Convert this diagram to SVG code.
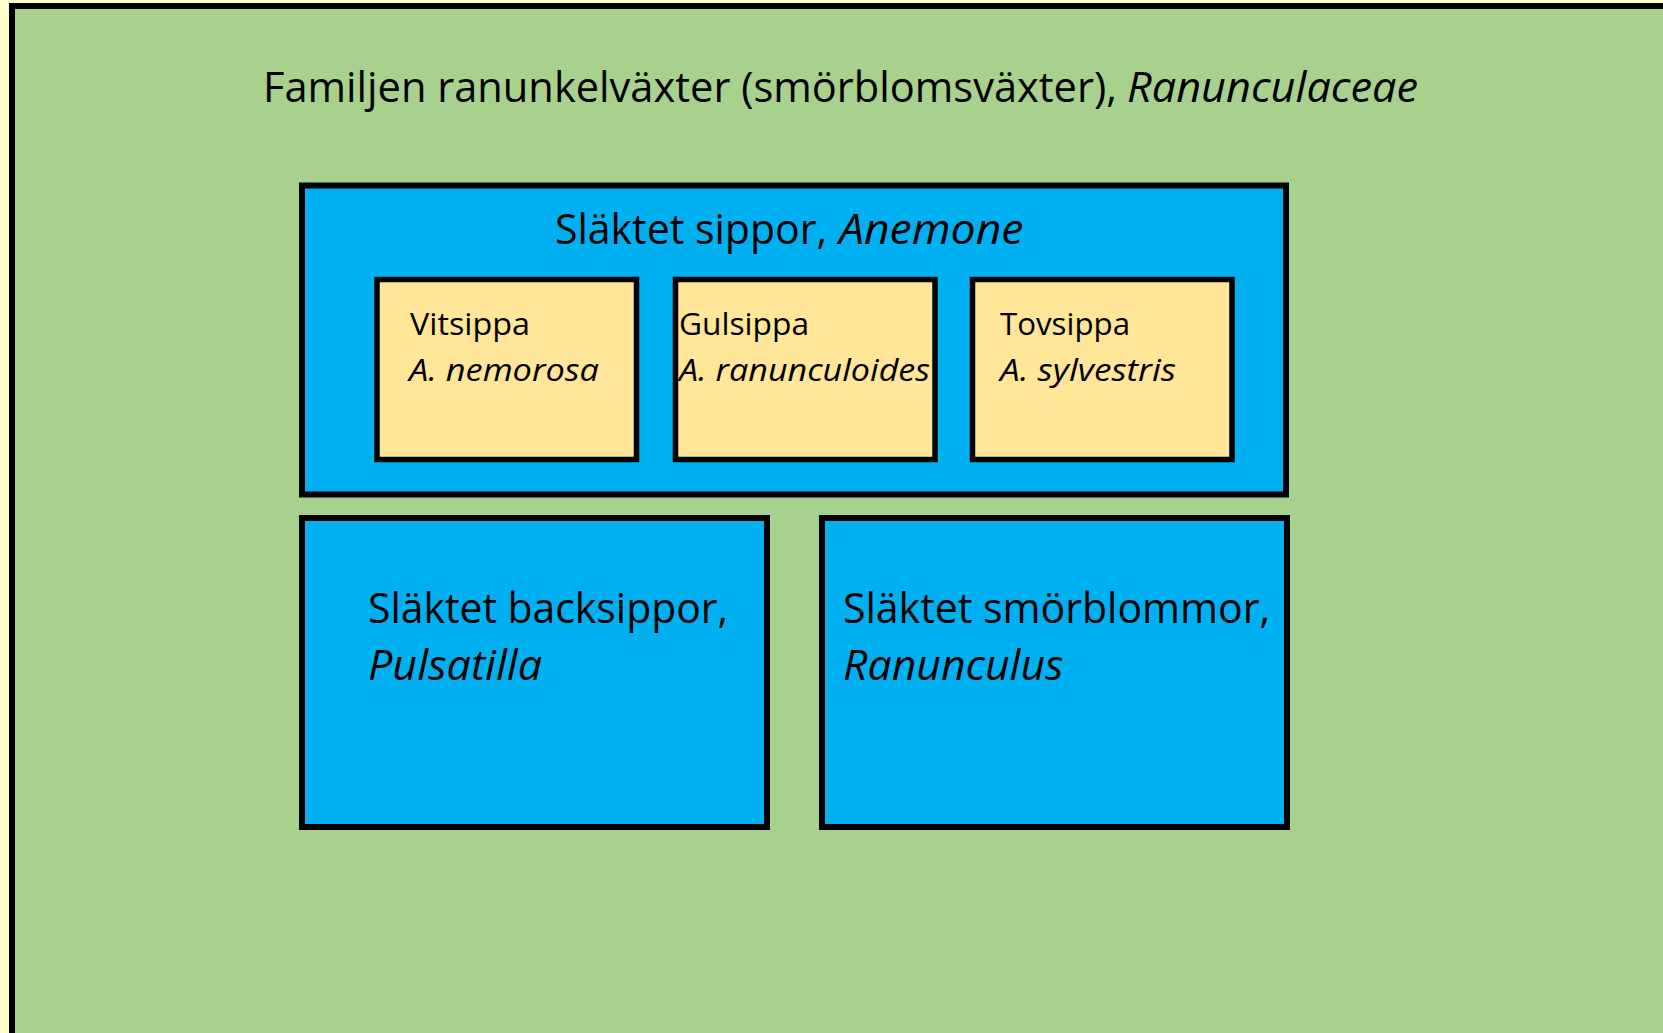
<svg xmlns="http://www.w3.org/2000/svg" width="1663" height="1033" viewBox="0 0 1663 1033">
<style>
.box{stroke:#000;stroke-width:6}
.fam{fill:#A9D18E}
.gen{fill:#00B0F0}
.sp{fill:#FFE699;stroke-width:5.5}
text{font-family:"Open Sans","Noto Sans","Liberation Sans",sans-serif;fill:#000}
.big{font-size:42px}
.small{font-size:31px}
.it{font-style:italic}
</style>
<rect x="0" y="0" width="1663" height="1033" fill="#FFFFCC"/>
<g id="familj">
<rect class="box fam" x="12" y="6" width="1700" height="1100"/>
<text class="big" x="263" y="102" textLength="854" lengthAdjust="spacingAndGlyphs">Familjen ranunkelväxter (smörblomsväxter),</text>
<text class="big it" x="1127" y="102" textLength="291" lengthAdjust="spacingAndGlyphs">Ranunculaceae</text>
</g>
<g id="anemone">
<rect class="box gen" x="302" y="185.5" width="984" height="309"/>
<text class="big" x="555" y="244" textLength="272" lengthAdjust="spacingAndGlyphs">Släktet sippor,</text>
<text class="big it" x="839" y="244" textLength="184.5" lengthAdjust="spacingAndGlyphs">Anemone</text>
</g>
<g id="vitsippa">
<rect class="box sp" x="377" y="279.5" width="259.5" height="180"/>
<text class="small" x="410" y="335" textLength="120" lengthAdjust="spacingAndGlyphs">Vitsippa</text>
<text class="small it" x="409" y="381" textLength="190" lengthAdjust="spacingAndGlyphs">A. nemorosa</text>
</g>
<g id="gulsippa">
<rect class="box sp" x="675.5" y="279.5" width="259.5" height="180"/>
<text class="small" x="679" y="335" textLength="130" lengthAdjust="spacingAndGlyphs">Gulsippa</text>
<text class="small it" x="679" y="381" textLength="251" lengthAdjust="spacingAndGlyphs">A. ranunculoides</text>
</g>
<g id="tovsippa">
<rect class="box sp" x="972.5" y="279.5" width="259.5" height="180"/>
<text class="small" x="1000" y="335" textLength="130" lengthAdjust="spacingAndGlyphs">Tovsippa</text>
<text class="small it" x="1000" y="381" textLength="176" lengthAdjust="spacingAndGlyphs">A. sylvestris</text>
</g>
<g id="pulsatilla">
<rect class="box gen" x="302" y="518" width="465" height="309"/>
<text class="big" x="368" y="623" textLength="360" lengthAdjust="spacingAndGlyphs">Släktet backsippor,</text>
<text class="big it" x="368" y="680" textLength="174" lengthAdjust="spacingAndGlyphs">Pulsatilla</text>
</g>
<g id="ranunculus">
<rect class="box gen" x="822" y="518" width="465" height="309"/>
<text class="big" x="843" y="623" textLength="427" lengthAdjust="spacingAndGlyphs">Släktet smörblommor,</text>
<text class="big it" x="843" y="680" textLength="220.5" lengthAdjust="spacingAndGlyphs">Ranunculus</text>
</g>
<g id="connectors"/>
</svg>
